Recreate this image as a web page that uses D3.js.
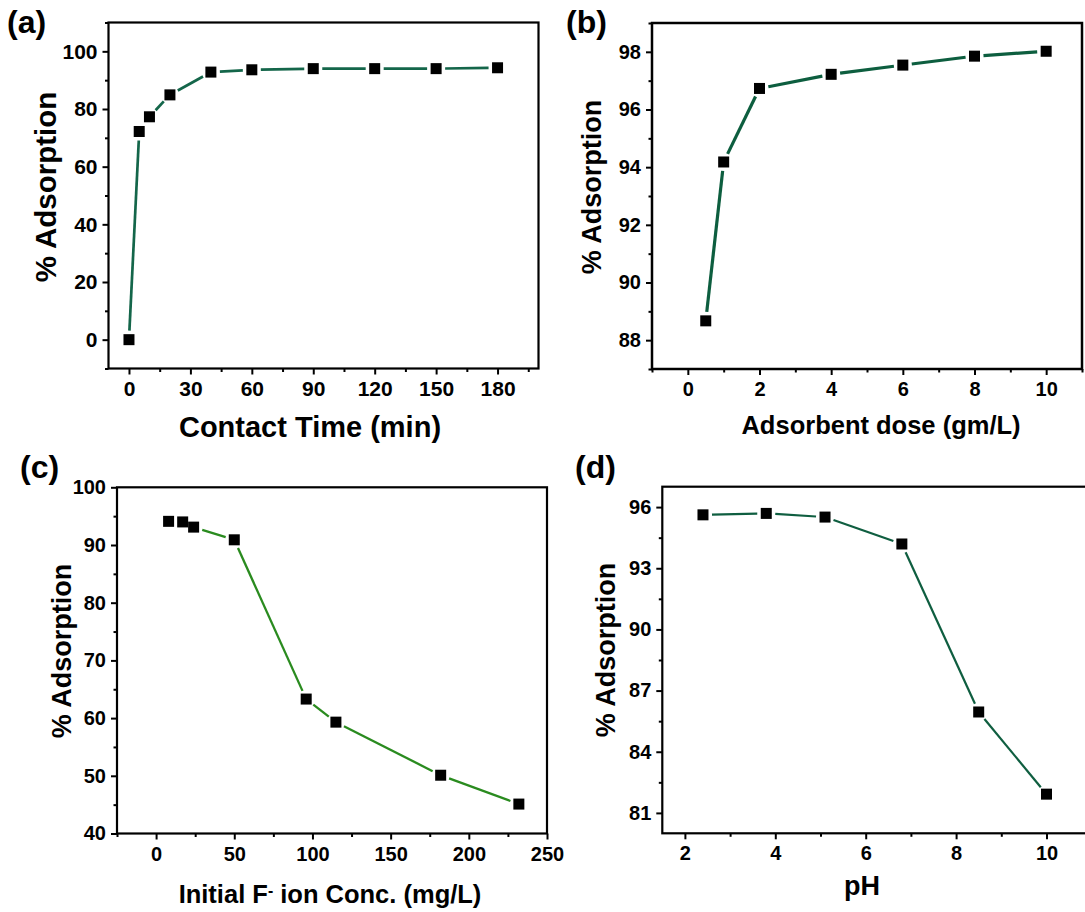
<!DOCTYPE html>
<html>
<head>
<meta charset="utf-8">
<script src="https://cdn.jsdelivr.net/npm/d3@7"></script>
<style>
  body { margin: 0; background: #fff; }
  svg { display: block; }
  text { font-family: "Liberation Sans", Arial, Helvetica, sans-serif; font-weight: bold; fill: #000; }
</style>
</head>
<body>
<svg id="fig" width="1085" height="912"></svg>
<script>
// (a) effect of contact time
const contactTime = [0, 5, 10, 20, 40, 60, 90, 120, 150, 180];
const adsorptionTime = [0, 72.2, 77.3, 84.9, 92.8, 93.6, 94.0, 94.0, 94.0, 94.3];
const timeTicks = [0, 30, 60, 90, 120, 150, 180];
const timeMinor = [15, 45, 75, 105, 135, 165, 195];
const pctTicksA = [0, 20, 40, 60, 80, 100];
const pctMinorA = [-10, 10, 30, 50, 70, 90, 110];

// (b) effect of adsorbent dose
const doseGL = [0.5, 1, 2, 4, 6, 8, 10];
const adsorptionDose = [88.67, 94.18, 96.73, 97.22, 97.54, 97.85, 98.02];
const doseTicks = [0, 2, 4, 6, 8, 10];
const doseMinor = [-1, 1, 3, 5, 7, 9, 11];
const pctTicksB = [88, 90, 92, 94, 96, 98];
const pctMinorB = [87, 89, 91, 93, 95, 97, 99];

// (c) effect of initial fluoride concentration
const initialConc = [8, 17, 24, 50, 96, 115, 182, 232];
const adsorptionConc = [94.1, 94.0, 93.1, 90.9, 63.3, 59.3, 50.1, 45.1];
const concTicks = [0, 50, 100, 150, 200, 250];
const concMinor = [-25, 25, 75, 125, 175, 225];
const pctTicksC = [40, 50, 60, 70, 80, 90, 100];
const pctMinorC = [45, 55, 65, 75, 85, 95];

// (d) effect of pH
const pHValues = [2.4, 3.8, 5.1, 6.8, 8.5, 10];
const adsorptionPH = [95.62, 95.69, 95.51, 94.19, 85.95, 81.92];
const pHTicks = [2, 4, 6, 8, 10];
const pHMinor = [3, 5, 7, 9, 11];
const pctTicksD = [81, 84, 87, 90, 93, 96];
const pctMinorD = [82.5, 85.5, 88.5, 91.5, 94.5];

const svg = d3.select("#fig");

const panels = [
  {
    tag: "(a)", tagPos: [7, 33], tagSize: 32,
    xRange: [108.5, 538.5], yRange: [368.5, 22.5],
    xDomain: [-10, 200], yDomain: [-10, 110],
    xTicks: timeTicks, xMinor: timeMinor, yTicks: pctTicksA, yMinor: pctMinorA,
    xs: contactTime, ys: adsorptionTime,
    color: "#14664a", lineWidth: 2.7, frameWidth: 2.2,
    tickFont: 21, xLabel: ["Contact Time (min)"], xLabelPos: [310, 437], xLabelSize: 29,
    yLabelPos: [56, 187], yLabelSize: 29.5
  },
  {
    tag: "(b)", tagPos: [566, 33], tagSize: 32,
    xRange: [652, 1082], yRange: [369, 23],
    xDomain: [-1, 11], yDomain: [87, 99],
    xTicks: doseTicks, xMinor: doseMinor, yTicks: pctTicksB, yMinor: pctMinorB,
    xs: doseGL, ys: adsorptionDose,
    color: "#0d5e3f", lineWidth: 3.2, frameWidth: 2.5,
    tickFont: 20, xLabel: ["Adsorbent dose (gm/L)"], xLabelPos: [881, 434], xLabelSize: 25.5,
    yLabelPos: [601, 187], yLabelSize: 27
  },
  {
    tag: "(c)", tagPos: [20, 478], tagSize: 32,
    xRange: [117, 547], yRange: [833.5, 487.3],
    xDomain: [-25, 250], yDomain: [40, 100],
    xTicks: concTicks, xMinor: concMinor, yTicks: pctTicksC, yMinor: pctMinorC,
    xs: initialConc, ys: adsorptionConc,
    color: "#2a8b1f", lineWidth: 2.3, frameWidth: 2.2,
    tickFont: 20, xLabel: null, xLabelPos: [330, 903], xLabelSize: 25.5,
    yLabelPos: [71, 651], yLabelSize: 27
  },
  {
    tag: "(d)", tagPos: [575, 478], tagSize: 32,
    xRange: [662.3, 1091.7], yRange: [833.3, 486.7],
    xDomain: [1.5, 11], yDomain: [80, 97],
    xTicks: pHTicks, xMinor: pHMinor, yTicks: pctTicksD, yMinor: pctMinorD,
    xs: pHValues, ys: adsorptionPH,
    color: "#0f5e40", lineWidth: 2.2, frameWidth: 2.2,
    tickFont: 20, xLabel: ["pH"], xLabelPos: [862, 895], xLabelSize: 27,
    yLabelPos: [615, 650], yLabelSize: 27
  }
];

const MARKER = 11;   // square symbol side
const GAP = 9;       // line stops this far from each symbol centre

panels.forEach(p => {
  const g = svg.append("g");
  const x = d3.scaleLinear().domain(p.xDomain).range(p.xRange);
  const y = d3.scaleLinear().domain(p.yDomain).range(p.yRange);
  const [x0, x1] = p.xRange;
  const [y1, y0] = p.yRange;

  // bottom axis: major + minor ticks
  const xAxis = g.append("g").attr("transform", `translate(0,${y1})`)
    .call(d3.axisBottom(x).tickValues(p.xTicks).tickSize(6).tickSizeOuter(0).tickPadding(7).tickFormat(d3.format("d")));
  const xMinorAxis = g.append("g").attr("transform", `translate(0,${y1})`)
    .call(d3.axisBottom(x).tickValues(p.xMinor.filter(v => v >= p.xDomain[0] && v <= p.xDomain[1])).tickSize(3.5).tickSizeOuter(0).tickFormat(""));
  // left axis
  const yAxis = g.append("g").attr("transform", `translate(${x0},0)`)
    .call(d3.axisLeft(y).tickValues(p.yTicks).tickSize(6).tickSizeOuter(0).tickPadding(5).tickFormat(d3.format("d")));
  const yMinorAxis = g.append("g").attr("transform", `translate(${x0},0)`)
    .call(d3.axisLeft(y).tickValues(p.yMinor).tickSize(3.5).tickSizeOuter(0).tickFormat(""));

  [xAxis, xMinorAxis, yAxis, yMinorAxis].forEach(a => {
    a.select(".domain").remove();
    a.selectAll(".tick line").attr("stroke", "#000").attr("stroke-width", 2);
    a.selectAll(".tick text").attr("font-size", p.tickFont).attr("font-family", null).attr("fill", "#000");
  });

  // frame
  g.append("rect")
    .attr("x", x0).attr("y", y0).attr("width", x1 - x0).attr("height", y1 - y0)
    .attr("fill", "none").attr("stroke", "#000").attr("stroke-width", p.frameWidth);

  // connecting line, drawn as segments that stop short of each symbol
  const pts = p.xs.map((v, i) => [x(v), y(p.ys[i])]);
  const segs = d3.pairs(pts).map(([a, b]) => {
    const dx = b[0] - a[0], dy = b[1] - a[1];
    const L = Math.hypot(dx, dy);
    if (L <= 2 * GAP) return null;
    const ux = dx / L, uy = dy / L;
    return [a[0] + ux * GAP, a[1] + uy * GAP, b[0] - ux * GAP, b[1] - uy * GAP];
  }).filter(Boolean);
  g.append("g").selectAll("line").data(segs).join("line")
    .attr("x1", d => d[0]).attr("y1", d => d[1]).attr("x2", d => d[2]).attr("y2", d => d[3])
    .attr("stroke", p.color).attr("stroke-width", p.lineWidth).attr("stroke-linecap", "butt");

  // square symbols
  g.append("g").selectAll("rect").data(p.xs.map((v, i) => [v, p.ys[i]])).join("rect")
    .attr("x", d => x(d[0]) - MARKER / 2).attr("y", d => y(d[1]) - MARKER / 2)
    .attr("width", MARKER).attr("height", MARKER).attr("fill", "#000");

  // panel tag
  svg.append("text").attr("x", p.tagPos[0]).attr("y", p.tagPos[1])
    .attr("font-size", p.tagSize).text(p.tag);

  // y-axis title
  svg.append("text")
    .attr("transform", `translate(${p.yLabelPos[0]},${p.yLabelPos[1]}) rotate(-90)`)
    .attr("text-anchor", "middle").attr("font-size", p.yLabelSize)
    .text("% Adsorption");

  // x-axis title
  const xt = svg.append("text")
    .attr("x", p.xLabelPos[0]).attr("y", p.xLabelPos[1])
    .attr("text-anchor", "middle").attr("font-size", p.xLabelSize);
  if (p.xLabel) {
    xt.text(p.xLabel[0]);
  } else {
    xt.append("tspan").text("Initial F");
    xt.append("tspan").attr("dy", "-0.42em").attr("font-size", "0.62em").text("-");
    xt.append("tspan").attr("dy", "0.26em").text(" ion Conc. (mg/L)");
  }
});
</script>
</body>
</html>
